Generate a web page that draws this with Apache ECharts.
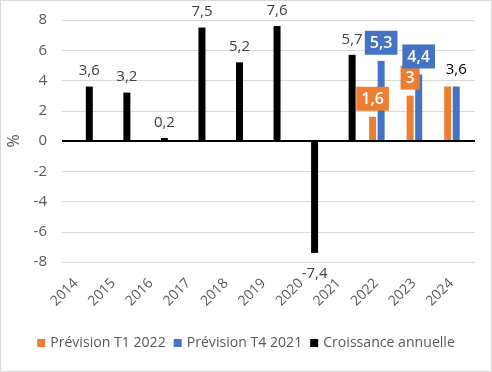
<!DOCTYPE html>
<html><head><meta charset="utf-8">
<script src="https://cdn.jsdelivr.net/npm/echarts@6/dist/echarts.min.js"></script>
<style>html,body{margin:0;padding:0;background:#fff}#c{width:492px;height:372px;box-sizing:border-box;border:1px solid #d9d9d9}</style>
</head><body><div id="c"></div>
<script>
var categories = ['2014','2015','2016','2017','2018','2019','2020','2021','2022','2023','2024'];
var previsionT1_2022 = [null,null,null,null,null,null,null,null,1.6,3,3.6];
var previsionT4_2021 = [null,null,null,null,null,null,null,null,5.3,4.4,3.6];
var croissance = [3.6,3.2,0.2,7.5,5.2,7.6,-7.4,5.7,null,null,null];
var yTicks = {min:-8, max:8, interval:2};

var FONT = '"Open Sans", "Noto Sans", sans-serif';
function fmt(v){ return String(v).replace('.', ','); }
function boxLabel(color){
  return {show:true, position:'top', distance:6, backgroundColor:color, color:'#fff', fontSize:16, fontWeight:600,
    fontFamily:FONT, lineHeight:17, padding:[4,5,3,5], formatter:function(p){return fmt(p.value);}};
}
var orangeData = previsionT1_2022.map(function(v,i){
  if(v===null) return null;
  var d = {value:v};
  if(categories[i]==='2024') d.label = {show:false};
  return d;
});
var blueData = previsionT4_2021.map(function(v,i){
  if(v===null) return null;
  var d = {value:v};
  if(categories[i]==='2024') d.label = {show:true, backgroundColor:'transparent', color:'#000', fontWeight:'normal', fontSize:15, padding:0, distance:8};
  return d;
});
var blackData = croissance.map(function(v){
  if(v===null) return null;
  var d = {value:v};
  if(v<0) d.label = {position:'bottom', distance:13};
  return d;
});
var chart = echarts.init(document.getElementById('c'));
chart.setOption({
  animation:false,
  textStyle:{fontFamily:FONT},
  grid:{left:61, right:16, top:19, bottom:109, outerBoundsMode:'none', containLabel:false},
  legend:{bottom:16, left:'center', itemWidth:8, itemHeight:8, itemGap:8, icon:'rect',
    textStyle:{fontSize:14.1, color:'#595959', fontFamily:FONT},
    data:['Prévision T1 2022','Prévision T4 2021','Croissance annuelle']},
  xAxis:{type:'category', data:categories,
    axisLine:{show:false, onZero:false}, axisTick:{show:false},
    axisLabel:{rotate:45, fontSize:14, color:'#595959', margin:24, interval:0, verticalAlign:'bottom', fontFamily:FONT}},
  yAxis:{type:'value', min:yTicks.min, max:yTicks.max, interval:yTicks.interval,
    name:'%', nameLocation:'middle', nameGap:40, nameRotate:90, nameTextStyle:{fontSize:16, color:'#595959'},
    axisLine:{show:false}, axisTick:{show:false},
    axisLabel:{fontSize:15, color:'#595959', margin:15},
    splitLine:{lineStyle:{color:'#d9d9d9', width:1}}},
  series:[
    {name:'Prévision T1 2022', type:'bar', data:orangeData, barWidth:7, barGap:'22%',
      itemStyle:{color:'#ED7D31'}, label:boxLabel('#ED7D31')},
    {name:'Prévision T4 2021', type:'bar', data:blueData, barWidth:7, barGap:'22%',
      itemStyle:{color:'#4472C4'}, label:boxLabel('#4472C4')},
    {name:'Croissance annuelle', type:'bar', data:blackData, barWidth:7, barGap:'22%',
      itemStyle:{color:'#000'},
      label:{show:true, position:'top', distance:8, color:'#404040', fontSize:15, fontFamily:FONT,
        formatter:function(p){return fmt(p.value);}},
      markLine:{silent:true, symbol:'none', label:{show:false}, lineStyle:{color:'#000', width:2, type:'solid'},
        data:[{yAxis:0}], animation:false}}
  ]
});
</script></body></html>
